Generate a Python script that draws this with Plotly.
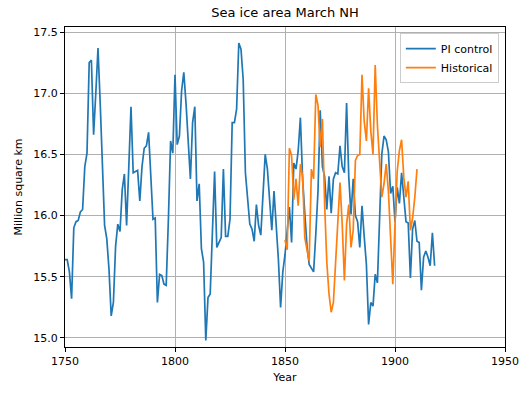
import plotly.graph_objects as go

# Annual March Northern Hemisphere sea ice area (million km^2)
pi_years = list(range(1750, 1919))
pi_control = [
    15.64, 15.64, 15.54, 15.32, 15.90, 15.95, 15.96, 16.03, 16.05, 16.40,  # 1750s
    16.51, 17.25, 17.27, 16.66, 17.00, 17.37, 16.92, 16.46, 15.92, 15.81,  # 1760s
    15.56, 15.18, 15.29, 15.75, 15.93, 15.87, 16.21, 16.34, 15.92, 16.40,  # 1770s
    16.89, 16.35, 16.36, 16.37, 16.12, 16.40, 16.55, 16.57, 16.68, 16.32,  # 1780s
    15.97, 15.98, 15.29, 15.52, 15.51, 15.44, 15.43, 15.97, 16.61, 16.51,  # 1790s
    17.15, 16.58, 16.65, 17.02, 17.17, 16.92, 16.60, 16.30, 16.76, 16.89,  # 1800s
    16.12, 16.26, 15.73, 15.62, 14.98, 15.33, 15.36, 15.92, 16.36, 15.74,  # 1810s
    15.78, 15.82, 16.38, 15.83, 15.83, 15.97, 16.76, 16.76, 16.87, 17.41,  # 1820s
    17.36, 17.11, 16.35, 16.16, 15.93, 15.89, 15.79, 16.09, 15.92, 15.84,  # 1830s
    16.17, 16.50, 16.38, 16.16, 15.88, 16.20, 15.93, 15.64, 15.25, 15.54,  # 1840s
    15.68, 15.85, 16.07, 15.78, 16.43, 16.38, 16.53, 16.80, 16.30, 16.02,  # 1850s
    15.75, 15.60, 15.57, 15.54, 15.85, 16.20, 16.86, 16.40, 16.32, 16.05,  # 1860s
    16.32, 16.02, 16.30, 16.35, 16.34, 16.57, 16.40, 16.35, 16.92, 16.31,  # 1870s
    16.01, 16.30, 16.00, 15.95, 15.74, 16.08, 15.83, 15.60, 15.11, 15.29,  # 1880s
    15.26, 15.52, 15.45, 15.97, 16.50, 16.65, 16.62, 16.52, 16.18, 16.24,  # 1890s
    15.95, 16.23, 16.10, 16.35, 16.15, 15.95, 15.94, 15.49, 15.89, 15.96,  # 1900s
    15.79, 15.78, 15.39, 15.66, 15.71, 15.66, 15.59, 15.86, 15.59,         # 1910s
]

hist_years = list(range(1850, 1911))
historical = [
    15.80, 15.72, 16.55, 16.49, 16.13, 16.30, 16.08, 16.42, 16.32, 15.82,  # 1850s
    15.72, 15.63, 16.38, 16.30, 16.99, 16.90, 16.56, 16.79, 16.10, 15.62,  # 1860s
    15.36, 15.21, 15.29, 15.60, 15.95, 16.27, 15.93, 15.47, 15.93, 16.09,  # 1870s
    15.74, 15.88, 16.45, 16.49, 16.50, 17.15, 16.77, 16.61, 17.04, 16.69,  # 1880s
    16.50, 17.23, 16.74, 16.45, 16.15, 16.26, 16.42, 16.20, 15.85, 15.44,  # 1890s
    15.93, 16.36, 16.53, 16.62, 16.31, 16.15, 16.28, 15.88, 15.98, 16.15,  # 1900s
    16.38,                                                                 # 1910
]

x_ticks = [1750, 1800, 1850, 1900, 1950]
y_ticks = [15.0, 15.5, 16.0, 16.5, 17.0, 17.5]

FONT = "DejaVu Sans, Liberation Sans, sans-serif"

fig = go.Figure()
fig.add_trace(go.Scatter(
    x=pi_years, y=pi_control, mode="lines", name="PI control",
    line=dict(color="#1f77b4", width=1.7),
))
fig.add_trace(go.Scatter(
    x=hist_years, y=historical, mode="lines", name="Historical",
    line=dict(color="#ff7f0e", width=1.7),
))

axis_common = dict(
    showline=True, linecolor="#000000", linewidth=1, mirror=True,
    ticks="outside", ticklen=4, tickcolor="#000000", tickwidth=1,
    showgrid=True, gridcolor="#b0b0b0", gridwidth=1,
    zeroline=False, automargin=False,
    tickfont=dict(family=FONT, size=11, color="#000000"),
)

fig.update_layout(
    width=520, height=393,
    margin=dict(l=65, r=15, t=27, b=46),
    paper_bgcolor="white", plot_bgcolor="white",
    font=dict(family=FONT, size=11, color="#000000"),
    title=dict(
        text="Sea ice area March NH", x=0.5, xanchor="center",
        xref="paper", y=1 - 12 / 393, yref="container", yanchor="middle",
        font=dict(family=FONT, size=13, color="#000000"),
    ),
    xaxis=dict(
        range=[1750, 1950], tickvals=x_ticks,
        ticktext=[str(v) for v in x_ticks],
        title=dict(text="Year", standoff=6,
                   font=dict(family=FONT, size=11, color="#000000")),
        **axis_common,
    ),
    yaxis=dict(
        range=[14.926, 17.541], tickvals=y_ticks,
        ticktext=[f"{v:.1f}" for v in y_ticks],
        title=dict(text="Million square km", standoff=8,
                   font=dict(family=FONT, size=11, color="#000000")),
        **axis_common,
    ),
    legend=dict(
        x=0.986, y=0.981, xanchor="right", yanchor="top",
        bgcolor="rgba(255,255,255,0.8)", bordercolor="#cccccc", borderwidth=1,
        font=dict(family=FONT, size=11, color="#000000"),
        itemwidth=30, tracegroupgap=0,
    ),
    showlegend=True,
)

fig.write_html("out.html")
